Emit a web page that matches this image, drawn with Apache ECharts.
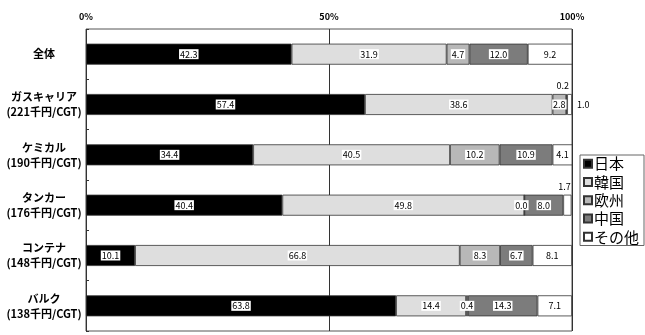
<!DOCTYPE html>
<html><head><meta charset="utf-8">
<script src="https://cdn.jsdelivr.net/npm/echarts@6/dist/echarts.min.js"></script>
<style>html,body{margin:0;padding:0;background:#fff}#c{width:645px;height:335px}</style>
</head><body><div id="c"></div>
<script>
const categories = ['全体', 'ガスキャリア\n(221千円/CGT)', 'ケミカル\n(190千円/CGT)', 'タンカー\n(176千円/CGT)', 'コンテナ\n(148千円/CGT)', 'バルク\n(138千円/CGT)'];
const seriesNames = ['日本', '韓国', '欧州', '中国', 'その他'];
const japan = [42.3, 57.4, 34.4, 40.4, 10.1, 63.8];
const korea = [31.9, 38.6, 40.5, 49.8, 66.8, 14.4];
const europe = [4.7, 2.8, 10.2, 0.0, 8.3, 0.4];
const china = [12.0, 0.2, 10.9, 8.0, 6.7, 14.3];
const other = [9.2, 1.0, 4.1, 1.7, 8.1, 7.1];
const xTicks = [0, 50, 100];

const values = [japan, korea, europe, china, other];
const colors = ['#000000', '#dedede', '#b8b8b8', '#7c7c7c', '#ffffff'];
const FONT = '"Noto Sans CJK JP", sans-serif';

// special label placements: [seriesIndex, categoryIndex] -> label overrides
const special = {
  '3-1': {position: 'top', offset: [-4, 1], backgroundColor: 'transparent'},
  '4-1': {position: 'right', distance: 4},
  '4-3': {position: 'top', offset: [-3, 1], backgroundColor: 'transparent'},
  '2-3': {position: 'inside', offset: [-3, 0]}
};

const series = seriesNames.map((name, si) => ({
  name, type: 'bar', stack: 'all', barWidth: 21,
  itemStyle: {color: colors[si], borderColor: '#333', borderWidth: 0.8},
  label: {
    show: true, position: 'inside', fontSize: 9, fontFamily: FONT, color: '#000',
    backgroundColor: '#fff', padding: [1, 1, 0, 1],
    formatter: p => p.value.toFixed(1)
  },
  emphasis: {disabled: true},
  data: values[si].map((v, ci) => {
    const sp = special[si + '-' + ci];
    return sp ? {value: v, label: sp} : v;
  })
}));

const chart = echarts.init(document.getElementById('c'), null, {renderer: 'canvas'});
chart.setOption({
  animation: false,
  backgroundColor: '#fff',
  textStyle: {fontFamily: FONT},
  grid: {left: 86, right: 73, top: 29, bottom: 4, show: true, borderColor: '#555', borderWidth: 1, containLabel: false},
  xAxis: {
    type: 'value', position: 'top', min: xTicks[0], max: xTicks[xTicks.length - 1], interval: xTicks[1] - xTicks[0],
    axisLine: {show: false}, axisTick: {show: false},
    axisLabel: {formatter: '{value}%', fontSize: 9, fontWeight: 'bold', color: '#000', margin: 8, fontFamily: FONT},
    splitLine: {show: true, lineStyle: {color: '#333', width: 1}}
  },
  yAxis: {
    type: 'category', inverse: true, data: categories,
    axisLine: {show: false},
    axisTick: {show: true, inside: true, length: 3, lineStyle: {color: '#333'}},
    axisLabel: {fontSize: 11, fontWeight: 'bold', color: '#000', align: 'center', margin: 42, lineHeight: 15, fontFamily: FONT}
  },
  legend: {
    orient: 'vertical', left: 580, top: 155,
    data: seriesNames,
    backgroundColor: '#fff', borderColor: '#666', borderWidth: 1,
    padding: [1, 5, 1, 3], itemGap: 3, itemWidth: 8, itemHeight: 8, icon: 'rect',
    textStyle: {fontSize: 15, color: '#000', lineHeight: 15.3, padding: [0, 0, 0, -3], fontFamily: FONT}
  },
  series
});
</script></body></html>
